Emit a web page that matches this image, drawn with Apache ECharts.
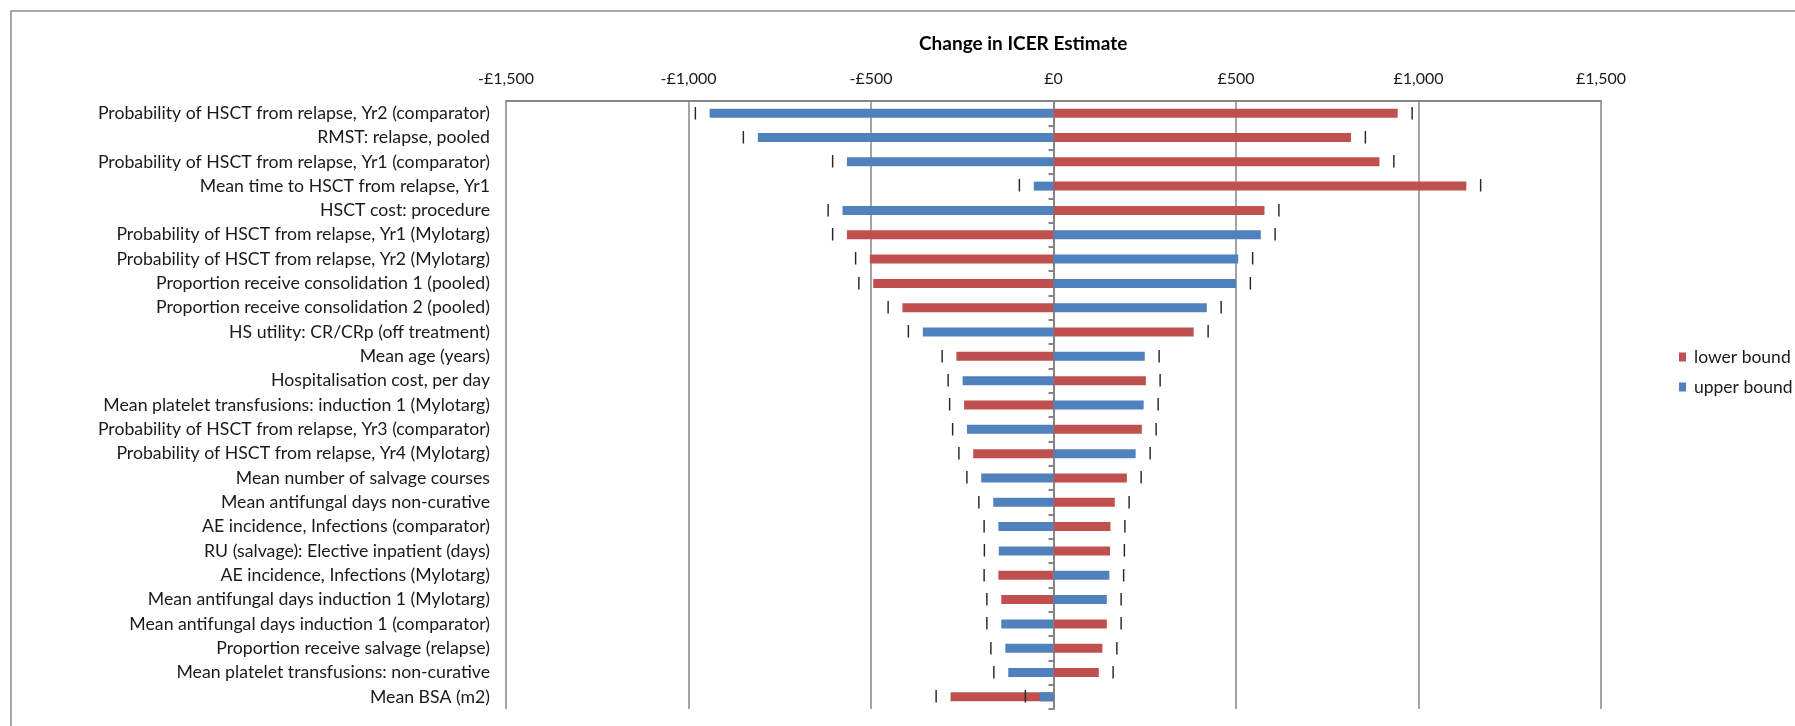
<!DOCTYPE html>
<html>
<head>
<meta charset="utf-8">
<script src="https://cdn.jsdelivr.net/npm/echarts@6/dist/echarts.min.js"></script>
<style>
  html, body { margin: 0; padding: 0; background: #fff; }
  #chart { width: 1795px; height: 726px; }
</style>
</head>
<body>
<div id="chart"></div>
<script>
// One-way sensitivity analysis: change in ICER when each parameter is set to its bounds
const categories = [
  'Probability of HSCT from relapse, Yr2 (comparator)',
  'RMST: relapse, pooled',
  'Probability of HSCT from relapse, Yr1 (comparator)',
  'Mean time to HSCT from relapse, Yr1',
  'HSCT cost: procedure',
  'Probability of HSCT from relapse, Yr1 (Mylotarg)',
  'Probability of HSCT from relapse, Yr2 (Mylotarg)',
  'Proportion receive consolidation 1 (pooled)',
  'Proportion receive consolidation 2 (pooled)',
  'HS utility: CR/CRp (off treatment)',
  'Mean age (years)',
  'Hospitalisation cost, per day',
  'Mean platelet transfusions: induction 1 (Mylotarg)',
  'Probability of HSCT from relapse, Yr3 (comparator)',
  'Probability of HSCT from relapse, Yr4 (Mylotarg)',
  'Mean number of salvage courses',
  'Mean antifungal days non-curative',
  'AE incidence, Infections (comparator)',
  'RU (salvage): Elective inpatient (days)',
  'AE incidence, Infections (Mylotarg)',
  'Mean antifungal days induction 1 (Mylotarg)',
  'Mean antifungal days induction 1 (comparator)',
  'Proportion receive salvage (relapse)',
  'Mean platelet transfusions: non-curative',
  'Mean BSA (m2)'
];

const lowerBound = [943, 815, 893, 1131, 578, -566, -503, -494, -414, 384, -266, 253, -245, 242, -220, 201, 168, 156, 155, -151, -143, 146, 134, 124, -282];
const upperBound = [-942, -810, -566, -54, -578, 568, 506, 500, 420, -358, 250, -249, 247, -237, 225, -198, -165, -151, -150, 153, 146, -143, -132, -124, -38];

const xTicks = { min: -1500, max: 1500, step: 500 };

const FONT = 'Lato';
const RED = '#C0504D';
const BLUE = '#4F81BD';
const GRID_GREY = '#868686';

function money(v) {
  const s = '£' + Math.abs(v).toLocaleString('en-GB');
  return v < 0 ? '-' + s : s;
}

// each bar carries an end marker placed just past its tip
function withEndMarker(values) {
  return values.map(v => ({
    value: v,
    label: { position: v < 0 ? 'left' : 'right' }
  }));
}

const endMarker = {
  show: true,
  formatter: '|',
  distance: 12,
  color: '#262626',
  fontFamily: 'DejaVu Sans',
  fontWeight: 'bold',
  fontSize: 13
};

const chart = echarts.init(document.getElementById('chart'), null, { renderer: 'canvas' });

chart.setOption({
  animation: false,
  backgroundColor: '#fff',
  textStyle: { fontFamily: FONT },
  graphic: [{
    type: 'rect',
    shape: { x: 11, y: 11, width: 1900, height: 900 },
    style: { fill: 'none', stroke: '#8a8a8a', lineWidth: 1.5 },
    silent: true,
    z: -1
  }],
  title: {
    text: 'Change in ICER Estimate',
    left: 919,
    top: 34,
    padding: 0,
    textStyle: { fontFamily: FONT, fontSize: 19, fontWeight: 'bold', color: '#000' }
  },
  legend: {
    orient: 'vertical',
    left: 1674,
    top: 343,
    itemWidth: 7,
    itemHeight: 9,
    itemGap: 12,
    icon: 'rect',
    textStyle: { fontFamily: FONT, fontSize: 17.5, color: '#1a1a1a', padding: [0, 0, 0, 3] },
    data: ['lower bound', 'upper bound']
  },
  grid: { left: 506, right: 194, top: 101, bottom: 17, containLabel: false },
  xAxis: {
    type: 'value',
    position: 'top',
    min: xTicks.min,
    max: xTicks.max,
    interval: xTicks.step,
    axisLine: { show: true, onZero: false, lineStyle: { color: GRID_GREY, width: 2 } },
    axisTick: { show: false },
    axisLabel: {
      formatter: money,
      fontFamily: FONT,
      fontSize: 16,
      color: '#1a1a1a',
      margin: 14
    },
    splitLine: { show: true, lineStyle: { color: GRID_GREY, width: 1.5 } }
  },
  yAxis: [{
    type: 'category',
    inverse: true,
    data: categories,
    position: 'left',
    axisLine: { show: false, onZero: false },
    axisTick: { show: false },
    axisLabel: {
      fontFamily: FONT,
      fontSize: 17.7,
      color: '#1a1a1a',
      margin: 16
    }
  }, {
    type: 'category',
    inverse: true,
    data: categories,
    position: 'right',
    axisLine: { show: true, onZero: true, lineStyle: { color: GRID_GREY, width: 2 } },
    axisTick: { show: true, inside: true, length: 5, lineStyle: { color: GRID_GREY, width: 2 } },
    axisLabel: { show: false }
  }],
  series: [{
    name: 'lower bound',
    type: 'bar',
    yAxisIndex: 0,
    barWidth: 9,
    barGap: '-100%',
    itemStyle: { color: RED },
    label: endMarker,
    data: withEndMarker(lowerBound)
  }, {
    name: 'upper bound',
    type: 'bar',
    yAxisIndex: 0,
    barWidth: 9,
    barGap: '-100%',
    itemStyle: { color: BLUE },
    label: endMarker,
    data: withEndMarker(upperBound)
  }]
});
</script>
</body>
</html>
